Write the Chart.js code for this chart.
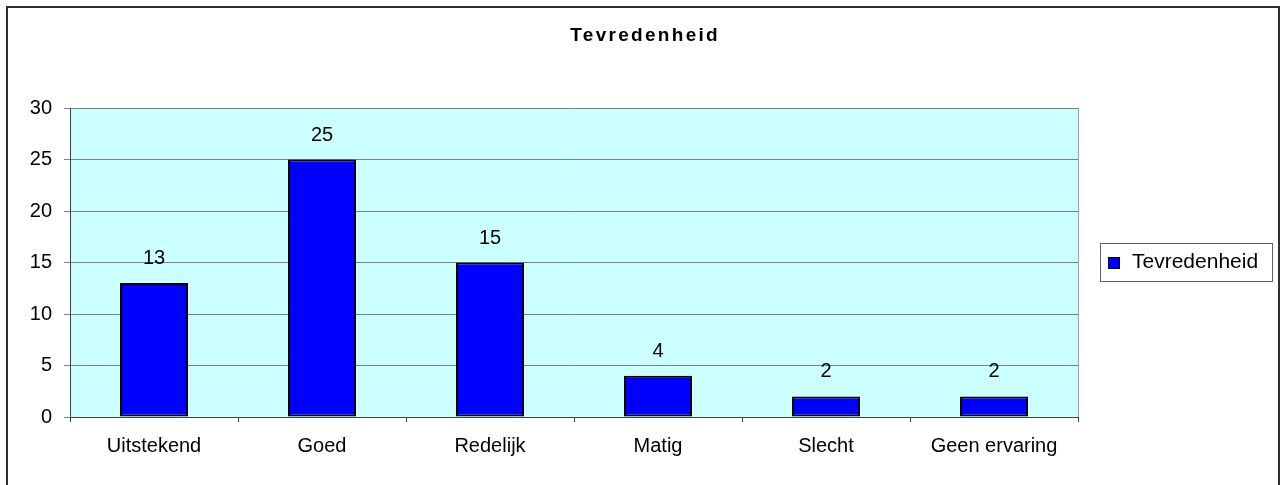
<!DOCTYPE html>
<html>
<head>
<meta charset="utf-8">
<script src="https://cdn.jsdelivr.net/npm/chart.js@4"></script>
<style>
  html, body { margin: 0; padding: 0; background: #ffffff; }
  #wrap { width: 1280px; height: 485px; position: relative; }
</style>
</head>
<body>
<div id="wrap"><canvas id="chart"></canvas></div>
<script>
// Tevredenheid chart

const categories = ["Uitstekend", "Goed", "Redelijk", "Matig", "Slecht", "Geen ervaring"];
const values = [13, 25, 15, 4, 2, 2];
const seriesName = "Tevredenheid";
const chartTitle = "Tevredenheid";
const yTicks = [0, 5, 10, 15, 20, 25, 30];

const FONT = "'Liberation Sans', Arial, sans-serif";

// ====================== PLUGINS ======================

const frame = {
    id: "frame",
    beforeDraw(chart) {
        const { ctx, chartArea } = chart;
        ctx.save();
        ctx.fillStyle = "#ccffff";
        ctx.fillRect(chartArea.left, chartArea.top, chartArea.right - chartArea.left, chartArea.bottom - chartArea.top);
        ctx.restore();
    },
    afterDraw(chart) {
        const { ctx, chartArea } = chart;
        ctx.save();
        // outer border
        ctx.strokeStyle = "#303030";
        ctx.lineWidth = 2;
        ctx.strokeRect(7, 7, 1272, 485);

        // right edge of plot
        ctx.strokeStyle = "#a0a0a0";
        ctx.lineWidth = 1;
        ctx.beginPath();
        ctx.moveTo(Math.round(chartArea.right) + 0.5, chartArea.top);
        ctx.lineTo(Math.round(chartArea.right) + 0.5, chartArea.bottom);
        ctx.stroke();

        // title
        ctx.fillStyle = "#000";
        ctx.font = "bold 19px " + FONT;
        ctx.letterSpacing = "2.3px";
        ctx.textAlign = "left";
        ctx.textBaseline = "middle";
        const w = ctx.measureText(chartTitle).width - 2.3;
        ctx.fillText(chartTitle, 644 - w / 2, 36);
        ctx.letterSpacing = "0px";

        // legend
        ctx.strokeStyle = "#606060";
        ctx.lineWidth = 1;
        ctx.strokeRect(1100.5, 243.5, 172, 38);
        ctx.fillStyle = "#0000ff";
        ctx.fillRect(1108, 257, 12, 12);
        ctx.strokeStyle = "#000";
        ctx.strokeRect(1108.5, 257.5, 11, 11);
        ctx.fillStyle = "#000";
        ctx.font = "21px " + FONT;
        ctx.fillText(seriesName, 1132, 262);

        // value labels
        const meta = chart.getDatasetMeta(0);
        ctx.font = "20px " + FONT;
        ctx.textAlign = "center";
        ctx.textBaseline = "alphabetic";
        meta.data.forEach((bar, i) => {
            ctx.fillText(String(values[i]), bar.x, bar.y - 19);
        });
        ctx.restore();
    }
};

// ====================== CHART ======================

const ctx = document.getElementById("chart");

new Chart(ctx, {
    type: "bar",
    data: {
        labels: categories,
        datasets: [{
            label: seriesName,
            data: values,
            backgroundColor: "#0000ff",
            borderColor: "#000000",
            borderWidth: 2,
            borderSkipped: false,
            barPercentage: 0.405,
            categoryPercentage: 1
        }]
    },
    options: {
        responsive: true,
        maintainAspectRatio: false,
        animation: false,
        layout: {
            padding: { left: 0, right: 202, top: 108, bottom: 0 }
        },
        plugins: {
            legend: { display: false },
            title: { display: false },
            tooltip: { enabled: false }
        },
        scales: {
            x: {
                grid: {
                    offset: true,
                    drawOnChartArea: false,
                    drawTicks: true,
                    tickLength: 5,
                    color: "#404040"
                },
                border: { color: "#404040", width: 1 },
                ticks: {
                    color: "#000",
                    font: { family: FONT, size: 20 },
                    padding: 12,
                    maxRotation: 0,
                    autoSkip: false
                },
                afterFit(scale) { scale.height = 68; }
            },
            y: {
                min: 0,
                max: 30,
                afterBuildTicks(scale) { scale.ticks = yTicks.map(v => ({ value: v })); },
                grid: {
                    color: "#7a8080",
                    tickLength: 6,
                    drawTicks: true
                },
                border: { color: "#404040", width: 1 },
                ticks: {
                    color: "#000",
                    font: { family: FONT, size: 20 },
                    padding: 12
                },
                afterFit(scale) { scale.width = 70; }
            }
        }
    },
    plugins: [frame]
});
</script>
</body>
</html>
